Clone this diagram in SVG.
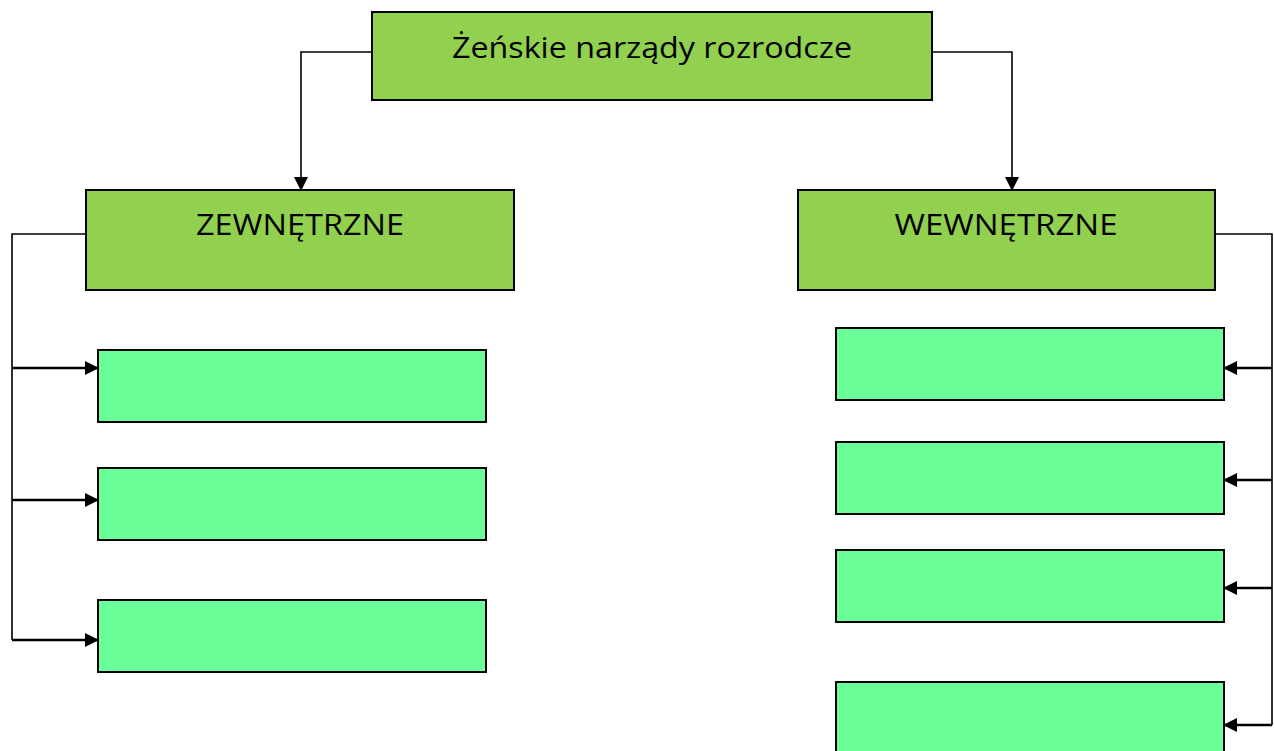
<svg xmlns="http://www.w3.org/2000/svg" width="1274" height="751" viewBox="0 0 1274 751">
<style>
.main{fill:#92D050;stroke:#000;stroke-width:2}
.leaf{fill:#6BFF99;stroke:#000;stroke-width:2}
.lbl{font-family:"Open Sans",Lato,sans-serif;font-size:30px;fill:#000;text-anchor:middle}
.ln{fill:none;stroke:#000;stroke-width:1.6}
.br{fill:none;stroke:#000;stroke-width:2.4;marker-end:url(#ah)}
</style>
<defs>
<marker id="ah" markerWidth="14" markerHeight="14" refX="13" refY="7" orient="auto" markerUnits="userSpaceOnUse">
<path d="M0,0 L14,7 L0,14 Z" fill="#000"/>
</marker>
<marker id="ah2" markerWidth="14" markerHeight="14" refX="13" refY="7" orient="auto" markerUnits="userSpaceOnUse">
<path d="M0,0 L14,7 L0,14 Z" fill="#000"/>
</marker>
</defs>
<g id="connectors">
<path class="ln" d="M372,52 H301 V190" marker-end="url(#ah2)"/>
<path class="ln" d="M932,52 H1012 V190" marker-end="url(#ah2)"/>
<path class="ln" d="M86,234 H12 V640"/>
<path class="br" d="M12,368 H98"/>
<path class="br" d="M12,500 H98"/>
<path class="br" d="M12,640 H98"/>
<path class="ln" d="M1215,234 H1272 V725"/>
<path class="br" d="M1272,368 H1224"/>
<path class="br" d="M1272,480 H1224"/>
<path class="br" d="M1272,588 H1224"/>
<path class="br" d="M1272,725 H1224"/>
</g>
<g id="root">
<rect class="main" x="372" y="12" width="560" height="88"/>
<text class="lbl" x="652" y="58" textLength="400" lengthAdjust="spacingAndGlyphs">Żeńskie narządy rozrodcze</text>
</g>
<g id="zewnetrzne">
<rect class="main" x="86" y="190" width="428" height="100"/>
<text class="lbl" x="300" y="235" textLength="208" lengthAdjust="spacingAndGlyphs">ZEWNĘTRZNE</text>
</g>
<g id="wewnetrzne">
<rect class="main" x="798" y="190" width="417" height="100"/>
<text class="lbl" x="1006" y="235" textLength="223" lengthAdjust="spacingAndGlyphs">WEWNĘTRZNE</text>
</g>
<g id="z1"><rect class="leaf" x="98" y="350" width="388" height="72"/></g>
<g id="z2"><rect class="leaf" x="98" y="468" width="388" height="72"/></g>
<g id="z3"><rect class="leaf" x="98" y="600" width="388" height="72"/></g>
<g id="w1"><rect class="leaf" x="836" y="328" width="388" height="72"/></g>
<g id="w2"><rect class="leaf" x="836" y="442" width="388" height="72"/></g>
<g id="w3"><rect class="leaf" x="836" y="550" width="388" height="72"/></g>
<g id="w4"><rect class="leaf" x="836" y="682" width="388" height="72"/></g>
</svg>
